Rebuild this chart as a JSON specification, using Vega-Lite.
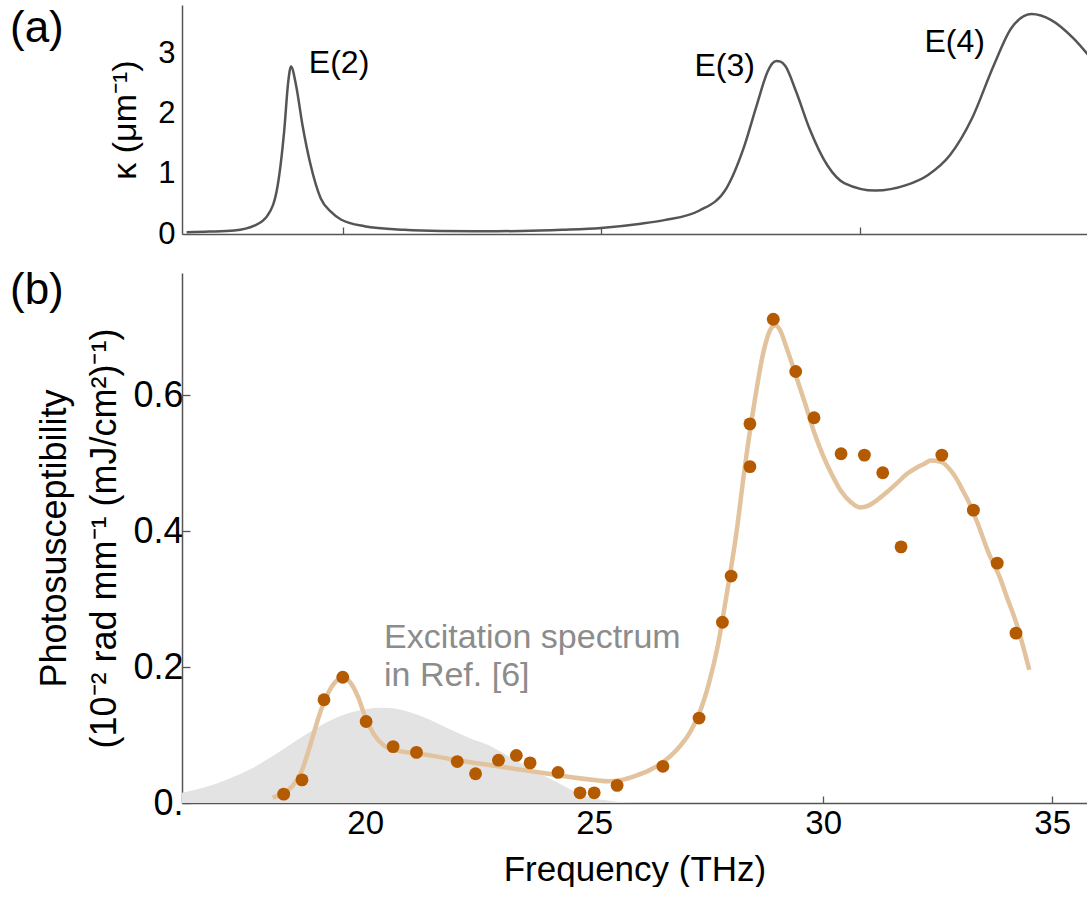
{
  "$schema": "https://vega.github.io/schema/vega-lite/v6.json",
  "padding": {"left": 10, "top": 5, "right": 0, "bottom": 0},
  "background": "white",
  "config": {
    "font": "Liberation Sans",
    "view": {"stroke": null},
    "axis": {
      "grid": false,
      "domainColor": "#555555",
      "domainWidth": 1.5,
      "tickColor": "#555555",
      "tickWidth": 1.3,
      "labelFont": "Liberation Sans",
      "titleFont": "Liberation Sans",
      "labelColor": "#000000",
      "titleColor": "#000000",
      "titleFontWeight": "normal",
      "labelFontSize": 33,
      "titleFontSize": 34
    },
    "title": {"font": "Liberation Sans", "fontWeight": "normal", "color": "#000000"}
  },
  "datasets": {
    "kappa": [
      {"f": 16.1, "k": 0.03}, {"f": 16.6, "k": 0.04}, {"f": 17.14, "k": 0.06}, {"f": 17.58, "k": 0.14},
      {"f": 17.87, "k": 0.31}, {"f": 18.09, "k": 0.81}, {"f": 18.23, "k": 1.7}, {"f": 18.32, "k": 2.53},
      {"f": 18.38, "k": 2.78}, {"f": 18.49, "k": 2.47}, {"f": 18.63, "k": 1.81}, {"f": 18.81, "k": 1.14},
      {"f": 19.03, "k": 0.59}, {"f": 19.25, "k": 0.37}, {"f": 19.47, "k": 0.24}, {"f": 19.98, "k": 0.13},
      {"f": 20.85, "k": 0.07}, {"f": 21.65, "k": 0.05}, {"f": 22.7, "k": 0.045}, {"f": 23.4, "k": 0.05},
      {"f": 24.3, "k": 0.07}, {"f": 25.15, "k": 0.1}, {"f": 26.02, "k": 0.17}, {"f": 26.53, "k": 0.23},
      {"f": 27.3, "k": 0.39}, {"f": 27.88, "k": 0.75}, {"f": 28.26, "k": 1.42}, {"f": 28.55, "k": 2.14},
      {"f": 28.79, "k": 2.7}, {"f": 28.89, "k": 2.83}, {"f": 28.98, "k": 2.87}, {"f": 29.07, "k": 2.86},
      {"f": 29.17, "k": 2.79}, {"f": 29.41, "k": 2.36},
      {"f": 29.7, "k": 1.75}, {"f": 30.09, "k": 1.14}, {"f": 30.47, "k": 0.84}, {"f": 31.14, "k": 0.72},
      {"f": 31.81, "k": 0.81}, {"f": 32.29, "k": 0.98}, {"f": 32.77, "k": 1.31}, {"f": 33.25, "k": 1.92},
      {"f": 33.73, "k": 2.81}, {"f": 34.11, "k": 3.42}, {"f": 34.55, "k": 3.65}, {"f": 34.98, "k": 3.55},
      {"f": 35.46, "k": 3.25}, {"f": 35.82, "k": 2.94}
    ],
    "modes": [
      {"f": 19.43, "k": 2.83, "label": "E(2)"},
      {"f": 27.85, "k": 2.79, "label": "E(3)"},
      {"f": 32.87, "k": 3.19, "label": "E(4)"}
    ],
    "points": [
      {"f": 18.22, "v": 0.013}, {"f": 18.62, "v": 0.034}, {"f": 19.1, "v": 0.152}, {"f": 19.51, "v": 0.185},
      {"f": 20.02, "v": 0.12}, {"f": 20.61, "v": 0.083}, {"f": 21.12, "v": 0.0745}, {"f": 22.01, "v": 0.061},
      {"f": 22.41, "v": 0.043}, {"f": 22.91, "v": 0.063}, {"f": 23.3, "v": 0.07}, {"f": 23.6, "v": 0.059},
      {"f": 24.21, "v": 0.045}, {"f": 24.69, "v": 0.015}, {"f": 25.0, "v": 0.015}, {"f": 25.5, "v": 0.026},
      {"f": 26.5, "v": 0.054}, {"f": 27.29, "v": 0.125}, {"f": 27.8, "v": 0.266}, {"f": 27.99, "v": 0.334},
      {"f": 28.4, "v": 0.495}, {"f": 28.4, "v": 0.558}, {"f": 28.91, "v": 0.712}, {"f": 29.4, "v": 0.635},
      {"f": 29.8, "v": 0.567}, {"f": 30.39, "v": 0.514}, {"f": 30.9, "v": 0.512}, {"f": 31.3, "v": 0.486},
      {"f": 31.7, "v": 0.377}, {"f": 32.59, "v": 0.512}, {"f": 33.28, "v": 0.431}, {"f": 33.8, "v": 0.353},
      {"f": 34.21, "v": 0.25}
    ],
    "fit": [
      {"f": 17.98, "v": 0.008}, {"f": 18.2, "v": 0.014}, {"f": 18.4, "v": 0.024}, {"f": 18.6, "v": 0.045},
      {"f": 18.8, "v": 0.085}, {"f": 19.0, "v": 0.13}, {"f": 19.2, "v": 0.163}, {"f": 19.4, "v": 0.181},
      {"f": 19.55, "v": 0.184}, {"f": 19.7, "v": 0.175}, {"f": 19.85, "v": 0.155}, {"f": 20.0, "v": 0.127},
      {"f": 20.2, "v": 0.1}, {"f": 20.4, "v": 0.085}, {"f": 20.7, "v": 0.077}, {"f": 21.0, "v": 0.074},
      {"f": 21.5, "v": 0.069}, {"f": 22.0, "v": 0.063}, {"f": 22.5, "v": 0.058}, {"f": 23.0, "v": 0.053},
      {"f": 23.5, "v": 0.048}, {"f": 24.0, "v": 0.043}, {"f": 24.5, "v": 0.038}, {"f": 25.0, "v": 0.034},
      {"f": 25.3, "v": 0.032}, {"f": 25.6, "v": 0.034}, {"f": 25.9, "v": 0.04}, {"f": 26.2, "v": 0.048},
      {"f": 26.5, "v": 0.06}, {"f": 26.8, "v": 0.078}, {"f": 27.1, "v": 0.105}, {"f": 27.3, "v": 0.133},
      {"f": 27.5, "v": 0.175}, {"f": 27.7, "v": 0.232}, {"f": 27.9, "v": 0.31}, {"f": 28.1, "v": 0.395},
      {"f": 28.3, "v": 0.5}, {"f": 28.5, "v": 0.59}, {"f": 28.7, "v": 0.665}, {"f": 28.85, "v": 0.697},
      {"f": 28.95, "v": 0.703}, {"f": 29.05, "v": 0.697}, {"f": 29.2, "v": 0.67}, {"f": 29.4, "v": 0.63},
      {"f": 29.6, "v": 0.589}, {"f": 29.8, "v": 0.546}, {"f": 30.0, "v": 0.511}, {"f": 30.2, "v": 0.482},
      {"f": 30.4, "v": 0.458}, {"f": 30.6, "v": 0.443}, {"f": 30.8, "v": 0.435}, {"f": 31.0, "v": 0.438},
      {"f": 31.2, "v": 0.447}, {"f": 31.4, "v": 0.458}, {"f": 31.6, "v": 0.47}, {"f": 31.84, "v": 0.485},
      {"f": 32.0, "v": 0.492}, {"f": 32.2, "v": 0.499}, {"f": 32.35, "v": 0.504}, {"f": 32.57, "v": 0.502},
      {"f": 32.8, "v": 0.488}, {"f": 32.93, "v": 0.475}, {"f": 33.0, "v": 0.466}, {"f": 33.2, "v": 0.44},
      {"f": 33.37, "v": 0.412}, {"f": 33.6, "v": 0.37}, {"f": 33.88, "v": 0.328}, {"f": 34.0, "v": 0.305},
      {"f": 34.24, "v": 0.26}, {"f": 34.5, "v": 0.196}
    ],
    "excitation": [
      {"f": 15.5, "v": 0.01}, {"f": 16.0, "v": 0.015}, {"f": 16.5, "v": 0.023}, {"f": 17.0, "v": 0.035},
      {"f": 17.5, "v": 0.05}, {"f": 18.0, "v": 0.07}, {"f": 18.5, "v": 0.092}, {"f": 19.0, "v": 0.113},
      {"f": 19.5, "v": 0.129}, {"f": 20.0, "v": 0.138}, {"f": 20.4, "v": 0.14}, {"f": 20.8, "v": 0.137},
      {"f": 21.3, "v": 0.126}, {"f": 21.8, "v": 0.11}, {"f": 22.3, "v": 0.095}, {"f": 22.7, "v": 0.085},
      {"f": 23.2, "v": 0.066}, {"f": 23.7, "v": 0.047}, {"f": 24.2, "v": 0.03}, {"f": 24.6, "v": 0.016},
      {"f": 25.0, "v": 0.007}, {"f": 25.5, "v": 0.002}, {"f": 26.0, "v": 0.0}
    ],
    "note": [
      {"f": 20.41, "v": 0.228, "label": "Excitation spectrum\nin Ref. [6]"}
    ]
  },
  "vconcat": [
    {
      "width": 905,
      "height": 229,
      "title": {
        "text": "(a)",
        "anchor": "start",
        "frame": "group",
        "orient": "top",
        "offset": 0,
        "dx": -172,
        "dy": 46,
        "fontSize": 44
      },
      "layer": [
        {
          "data": {"name": "kappa"},
          "mark": {"type": "line", "color": "#555555", "strokeWidth": 2.5, "interpolate": "monotone", "clip": true},
          "encoding": {
            "x": {
              "field": "f", "type": "quantitative",
              "scale": {"domain": [16, 35.76], "nice": false, "zero": false},
              "axis": {"title": null, "values": [19.51, 25.15, 30.8], "labels": false, "tickSize": -7}
            },
            "y": {
              "field": "k", "type": "quantitative",
              "scale": {"domain": [0, 3.8], "nice": false},
              "axis": {"title": "κ (μm⁻¹)", "values": [0, 1, 2, 3], "format": "d", "ticks": false, "labelFontSize": 31, "labelPadding": 7, "titlePadding": 15, "titleFontSize": 34}
            }
          }
        },
        {
          "data": {"name": "modes"},
          "mark": {"type": "text", "fontSize": 32, "align": "center", "baseline": "middle", "color": "#000000"},
          "encoding": {
            "x": {"field": "f", "type": "quantitative"},
            "y": {"field": "k", "type": "quantitative"},
            "text": {"field": "label"}
          }
        },
        {
          "mark": {"type": "rule", "color": "#555555", "strokeWidth": 1.5},
          "encoding": {"y": {"datum": 3.8}}
        }
      ]
    },
    {
      "width": 905,
      "height": 530,
      "title": {
        "text": "(b)",
        "anchor": "start",
        "frame": "group",
        "orient": "top",
        "offset": 0,
        "dx": -172,
        "dy": 40,
        "fontSize": 44
      },
      "layer": [
        {
          "data": {"name": "excitation"},
          "mark": {"type": "area", "color": "#e3e3e3", "interpolate": "monotone", "clip": true},
          "encoding": {
            "x": {
              "field": "f", "type": "quantitative",
              "scale": {"domain": [16, 35.76], "nice": false, "zero": false},
              "axis": {"title": "Frequency (THz)", "values": [20, 25, 30, 35], "tickSize": -7, "labelPadding": 11, "titlePadding": 12, "titleFontSize": 35}
            },
            "y": {
              "field": "v", "type": "quantitative",
              "scale": {"domain": [0, 0.78], "nice": false},
              "axis": {
                "title": ["Photosusceptibility", "(10⁻² rad mm⁻¹ (mJ/cm²)⁻¹)"],
                "values": [0, 0.2, 0.4, 0.6],
                "labelExpr": "datum.value === 0 ? '0.' : format(datum.value, '.1f')",
                "tickSize": -8,
                "labelPadding": 7,
                "labelFontSize": 36,
                "titlePadding": 9,
                "titleFontSize": 36,
                "titleLineHeight": 50
              }
            }
          }
        },
        {
          "data": {"name": "note"},
          "mark": {"type": "text", "fontSize": 34, "align": "left", "baseline": "alphabetic", "color": "#8c8c8c", "lineBreak": "\n", "lineHeight": 38},
          "encoding": {
            "x": {"field": "f", "type": "quantitative"},
            "y": {"field": "v", "type": "quantitative"},
            "text": {"field": "label"}
          }
        },
        {
          "data": {"name": "fit"},
          "mark": {"type": "line", "color": "#e2c39d", "strokeWidth": 4.5, "interpolate": "monotone", "clip": true},
          "encoding": {
            "x": {"field": "f", "type": "quantitative"},
            "y": {"field": "v", "type": "quantitative"}
          }
        },
        {
          "data": {"name": "points"},
          "mark": {"type": "circle", "color": "#b45a00", "size": 165, "opacity": 1},
          "encoding": {
            "x": {"field": "f", "type": "quantitative"},
            "y": {"field": "v", "type": "quantitative"}
          }
        },
        {
          "mark": {"type": "rule", "color": "#555555", "strokeWidth": 1.5},
          "encoding": {"y": {"datum": 0.78}}
        }
      ]
    }
  ],
  "spacing": 20
}
